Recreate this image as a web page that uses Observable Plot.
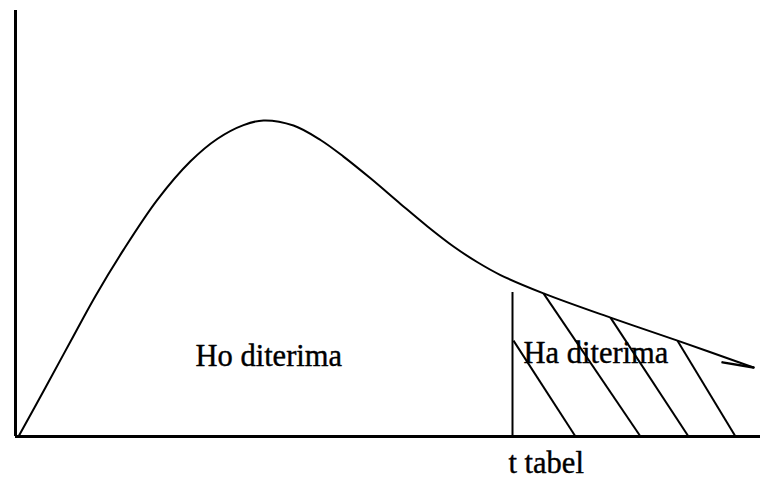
<!DOCTYPE html>
<html>
<head>
<meta charset="utf-8">
<script src="https://cdn.jsdelivr.net/npm/d3@7"></script>
<script src="https://cdn.jsdelivr.net/npm/@observablehq/plot@0.6"></script>
<style>
  html, body { margin: 0; padding: 0; background: #fff; }
  svg { display: block; }
</style>
</head>
<body>
<div id="chart"></div>
<script>
// Distribution curve (t value, density)
const curveT = [0.6, 6, 11, 16, 21.6, 28.4, 35, 40.4, 45.6, 49.6, 55.6, 61, 65.6, 71, 77, 82.4, 87.6, 92.4, 97, 105.6, 119, 132.4, 147.6];
const curveD = [0, 11.5, 22.3, 33.0, 43.8, 55.6, 64.6, 69.9, 73.1, 74.2, 73.0, 69.6, 65.7, 60.6, 54.6, 49.3, 44.6, 40.9, 37.9, 33.6, 27.9, 22.5, 16.2];

// Critical value (t tabel) line
const tTabel = 99.4;
const tTabelTop = 33.8;

// Hatching of the rejection region: start (t, d) -> end (t, 0)
const hatchT1 = [99.6, 105.6, 119, 132.4];
const hatchD1 = [22.5, 33.6, 27.9, 22.5];
const hatchT2 = [112, 125, 134.6, 144];

// Arrow barb at the tail end
const barbT = [141.4, 147.6];
const barbD = [17.4, 16.2];

// Labels
const labels = ["Ho diterima", "Ha diterima", "t tabel"];
const labelT = [36, 101.6, 98.6];
const labelD = [18.9, 19.6, -6.2];

const curve = curveT.map((t, i) => ({t, d: curveD[i]}));
const hatch = hatchT1.map((t, i) => ({t1: t, d1: hatchD1[i], t2: hatchT2[i], d2: 0}));
const barb = barbT.map((t, i) => ({t, d: barbD[i]}));
const labelData = labels.map((text, i) => ({text, t: labelT[i], d: labelD[i]}));

const chart = Plot.plot({
  width: 760,
  height: 479,
  margin: 0,
  style: {background: "#fff", overflow: "visible"},
  x: {domain: [0, 149], range: [15, 760], axis: null},
  y: {domain: [0, 100], range: [436, 10], axis: null},
  marks: [
    Plot.text(labelData, {
      x: "t", y: "d", text: "text",
      textAnchor: "start", lineAnchor: "middle",
      fontFamily: "Liberation Serif", fontSize: 30.5, fill: "#000",
      stroke: "#000", strokeWidth: 0.4
    }),
    Plot.ruleX([0], {y1: 0, y2: 100, stroke: "#000", strokeWidth: 3}),
    Plot.ruleY([0], {x1: 0, x2: 149, stroke: "#000", strokeWidth: 3}),
    Plot.line(curve, {x: "t", y: "d", curve: "catmull-rom", stroke: "#000", strokeWidth: 2}),
    Plot.ruleX([tTabel], {y1: 0, y2: tTabelTop, stroke: "#000", strokeWidth: 2}),
    Plot.link(hatch, {x1: "t1", y1: "d1", x2: "t2", y2: "d2", stroke: "#000", strokeWidth: 2}),
    Plot.line(barb, {x: "t", y: "d", stroke: "#000", strokeWidth: 2.5})
  ]
});
document.getElementById("chart").appendChild(chart);
</script>
</body>
</html>
